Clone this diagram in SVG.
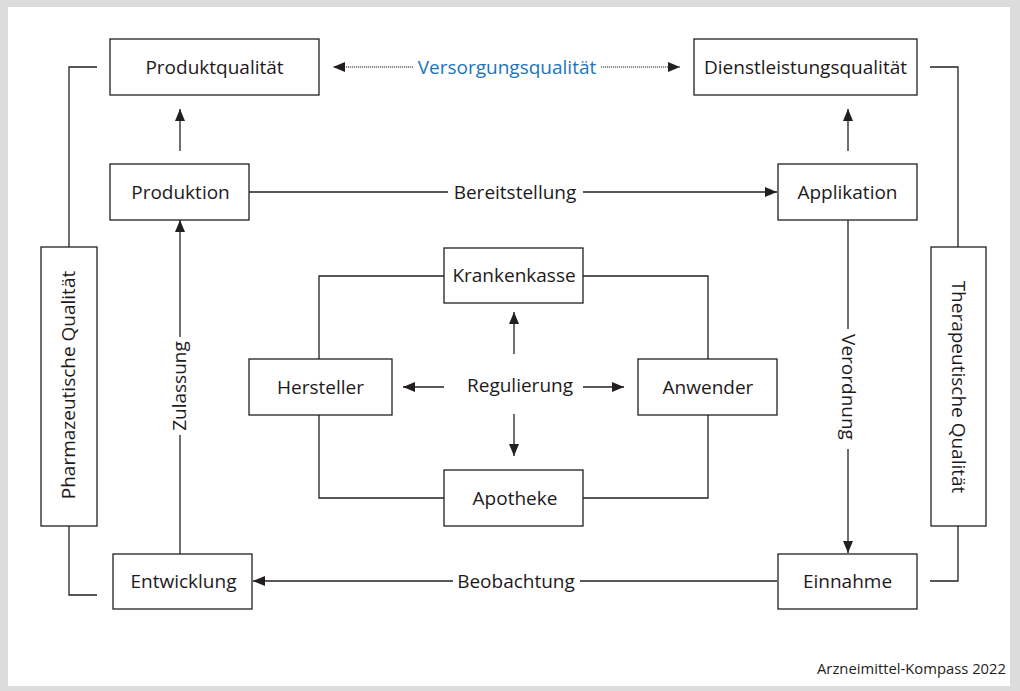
<svg xmlns="http://www.w3.org/2000/svg" width="1020" height="691" viewBox="0 0 1020 691">
<defs>
<style>
.box{fill:#fff;stroke:#231f20;stroke-width:1.3}
.ln{fill:none;stroke:#231f20;stroke-width:1.3}
.dot{fill:none;stroke:#231f20;stroke-width:1;stroke-dasharray:1.2 0.8}
.t{font-family:"Open Sans","Noto Sans","DejaVu Sans",sans-serif;font-size:19px;fill:#1d1a1b;text-anchor:middle}
.blue{fill:#1b75bb}
.foot{font-family:"Open Sans","Noto Sans","DejaVu Sans",sans-serif;font-size:14.8px;fill:#231f20;text-anchor:end}
</style>
<marker id="ah" markerUnits="userSpaceOnUse" markerWidth="12" markerHeight="10" refX="12" refY="5" orient="auto">
<path d="M0,0 L12,5 L0,10 z" fill="#231f20"/>
</marker>
</defs>
<rect x="0" y="0" width="1020" height="691" fill="#dcdcdc"/>
<rect x="8" y="7" width="1002" height="679" fill="#fff"/>

<g id="connectors">
<line class="ln" x1="180" y1="151" x2="180" y2="109" marker-end="url(#ah)"/>
<line class="ln" x1="848" y1="151" x2="848" y2="109" marker-end="url(#ah)"/>
<line class="dot" x1="413" y1="67" x2="333" y2="67" marker-end="url(#ah)"/>
<line class="dot" x1="601" y1="67" x2="680" y2="67" marker-end="url(#ah)"/>
<line class="ln" x1="249" y1="192" x2="448" y2="192"/>
<line class="ln" x1="583" y1="192" x2="777" y2="192" marker-end="url(#ah)"/>
<line class="ln" x1="777" y1="581" x2="580" y2="581"/>
<line class="ln" x1="453" y1="581" x2="253" y2="581" marker-end="url(#ah)"/>
<line class="ln" x1="180" y1="554" x2="180" y2="435"/>
<line class="ln" x1="180" y1="337" x2="180" y2="220" marker-end="url(#ah)"/>
<line class="ln" x1="848" y1="220" x2="848" y2="329"/>
<line class="ln" x1="848" y1="449" x2="848" y2="553" marker-end="url(#ah)"/>
<line class="ln" x1="514" y1="354" x2="514" y2="312" marker-end="url(#ah)"/>
<line class="ln" x1="514" y1="414" x2="514" y2="456" marker-end="url(#ah)"/>
<line class="ln" x1="444" y1="387" x2="403" y2="387" marker-end="url(#ah)"/>
<line class="ln" x1="583" y1="387" x2="624" y2="387" marker-end="url(#ah)"/>
<polyline class="ln" points="444,276 319,276 319,359"/>
<polyline class="ln" points="583,276 708,276 708,359"/>
<polyline class="ln" points="319,415 319,498 444,498"/>
<polyline class="ln" points="708,415 708,498 583,498"/>
<polyline class="ln" points="97,67 69,67 69,247"/>
<polyline class="ln" points="69,526 69,595 97,595"/>
<polyline class="ln" points="930,67 958,67 958,247"/>
<polyline class="ln" points="958,526 958,581 930,581"/>
</g>

<g id="labels">
<text class="t blue" x="507" y="74">Versorgungsqualität</text>
<text class="t" x="515" y="199">Bereitstellung</text>
<text class="t" x="516" y="588">Beobachtung</text>
<text class="t" x="520" y="392">Regulierung</text>
<text class="t" transform="translate(180,386) rotate(-90)" x="0" y="6">Zulassung</text>
<text class="t" transform="translate(848,387) rotate(90)" x="0" y="6">Verordnung</text>
</g>

<g id="produktqualitaet"><rect class="box" x="110" y="39" width="209" height="56"/><text class="t" x="214.5" y="74">Produktqualität</text></g>
<g id="dienstleistungsqualitaet"><rect class="box" x="694" y="39" width="223" height="56"/><text class="t" x="805.5" y="74">Dienstleistungsqualität</text></g>
<g id="produktion"><rect class="box" x="110" y="164" width="139" height="56"/><text class="t" x="180.5" y="199">Produktion</text></g>
<g id="applikation"><rect class="box" x="778" y="164" width="139" height="56"/><text class="t" x="847.5" y="199">Applikation</text></g>
<g id="krankenkasse"><rect class="box" x="444" y="248" width="139" height="55"/><text class="t" x="514" y="282">Krankenkasse</text></g>
<g id="hersteller"><rect class="box" x="249" y="359" width="143" height="56"/><text class="t" x="320.5" y="394">Hersteller</text></g>
<g id="anwender"><rect class="box" x="638" y="359" width="139" height="56"/><text class="t" x="708" y="394">Anwender</text></g>
<g id="apotheke"><rect class="box" x="444" y="470" width="139" height="56"/><text class="t" x="515" y="505">Apotheke</text></g>
<g id="entwicklung"><rect class="box" x="113" y="554" width="139" height="55"/><text class="t" x="183.5" y="588">Entwicklung</text></g>
<g id="einnahme"><rect class="box" x="778" y="554" width="139" height="55"/><text class="t" x="847.5" y="588">Einnahme</text></g>
<g id="pharmazeutische-qualitaet"><rect class="box" x="41" y="247" width="56" height="279"/><text class="t" transform="translate(69,385) rotate(-90)" x="0" y="6">Pharmazeutische Qualität</text></g>
<g id="therapeutische-qualitaet"><rect class="box" x="931" y="247" width="55" height="279"/><text class="t" transform="translate(958,387) rotate(90)" x="0" y="6">Therapeutische Qualität</text></g>

<text class="foot" x="1006" y="674">Arzneimittel-Kompass 2022</text>
</svg>
